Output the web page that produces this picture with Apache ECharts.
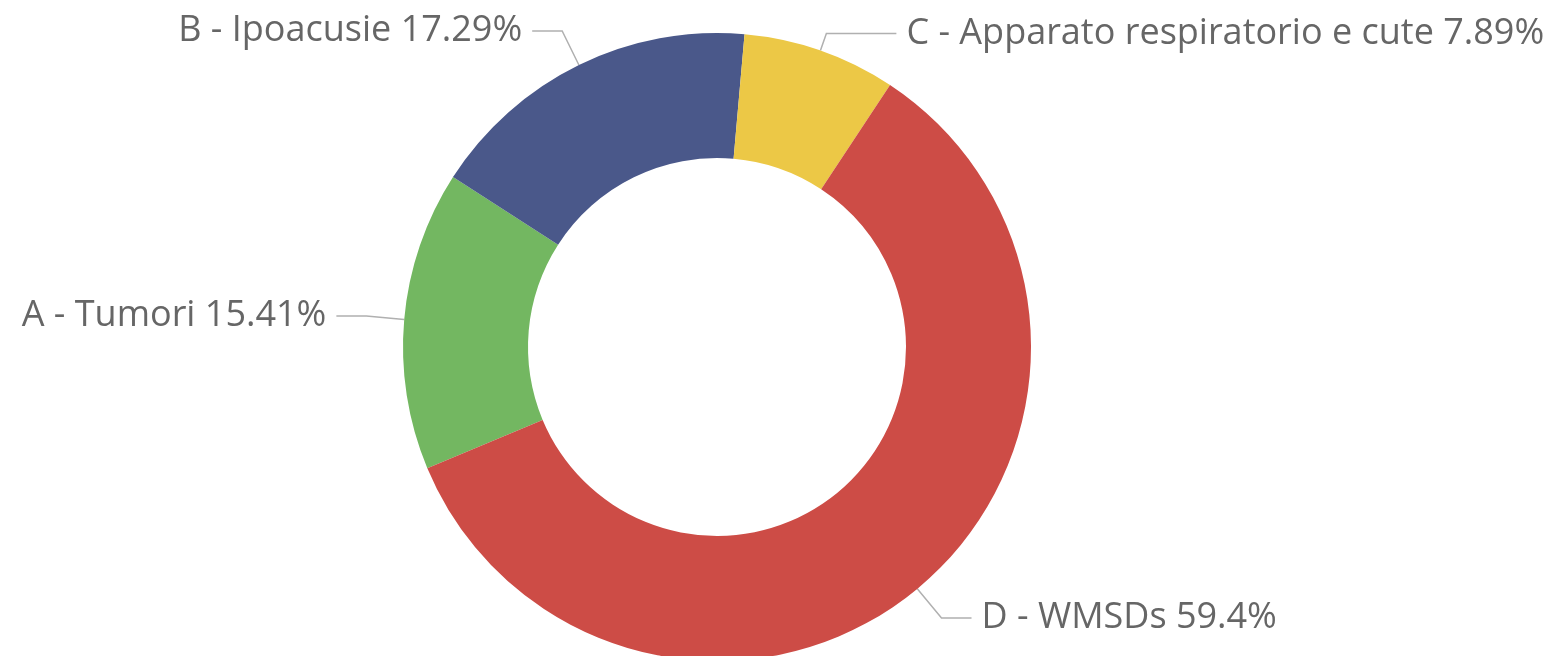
<!DOCTYPE html>
<html><head><meta charset="utf-8">
<script src="https://cdn.jsdelivr.net/npm/echarts@6/dist/echarts.min.js"></script>
<style>html,body{margin:0;padding:0;background:#fff}#c{width:1563px;height:656px}</style>
</head><body><div id="c"></div>
<script>
const categories = ['A - Tumori', 'B - Ipoacusie', 'C - Apparato respiratorio e cute', 'D - WMSDs'];
const values = [15.41, 17.29, 7.89, 59.4];
const colors = ['#73B761', '#4A588A', '#ECC846', '#CD4C46'];

const chart = echarts.init(document.getElementById('c'), null, {renderer: 'canvas'});
chart.setOption({
  animation: false,
  series: [{
    type: 'pie',
    center: [717, 347],
    radius: [189, 314],
    startAngle: 202.7,
    clockwise: true,
    avoidLabelOverlap: false,
    data: categories.map((n, i) => {
      const d = {name: n, value: values[i], itemStyle: {color: colors[i]}};
      if (i === 2) d.labelLine = {length: 18, length2: 70};
      return d;
    }),
    label: {
      show: true,
      position: 'outside',
      formatter: p => p.name + ' ' + p.value + '%',
      fontFamily: '"Open Sans", sans-serif',
      fontSize: 36,
      color: '#666666',
      distanceToLabelLine: 10
    },
    labelLine: {
      show: true,
      length: 38,
      length2: 30,
      lineStyle: {color: '#b0b0b0', width: 1.5}
    }
  }]
});
</script></body></html>
